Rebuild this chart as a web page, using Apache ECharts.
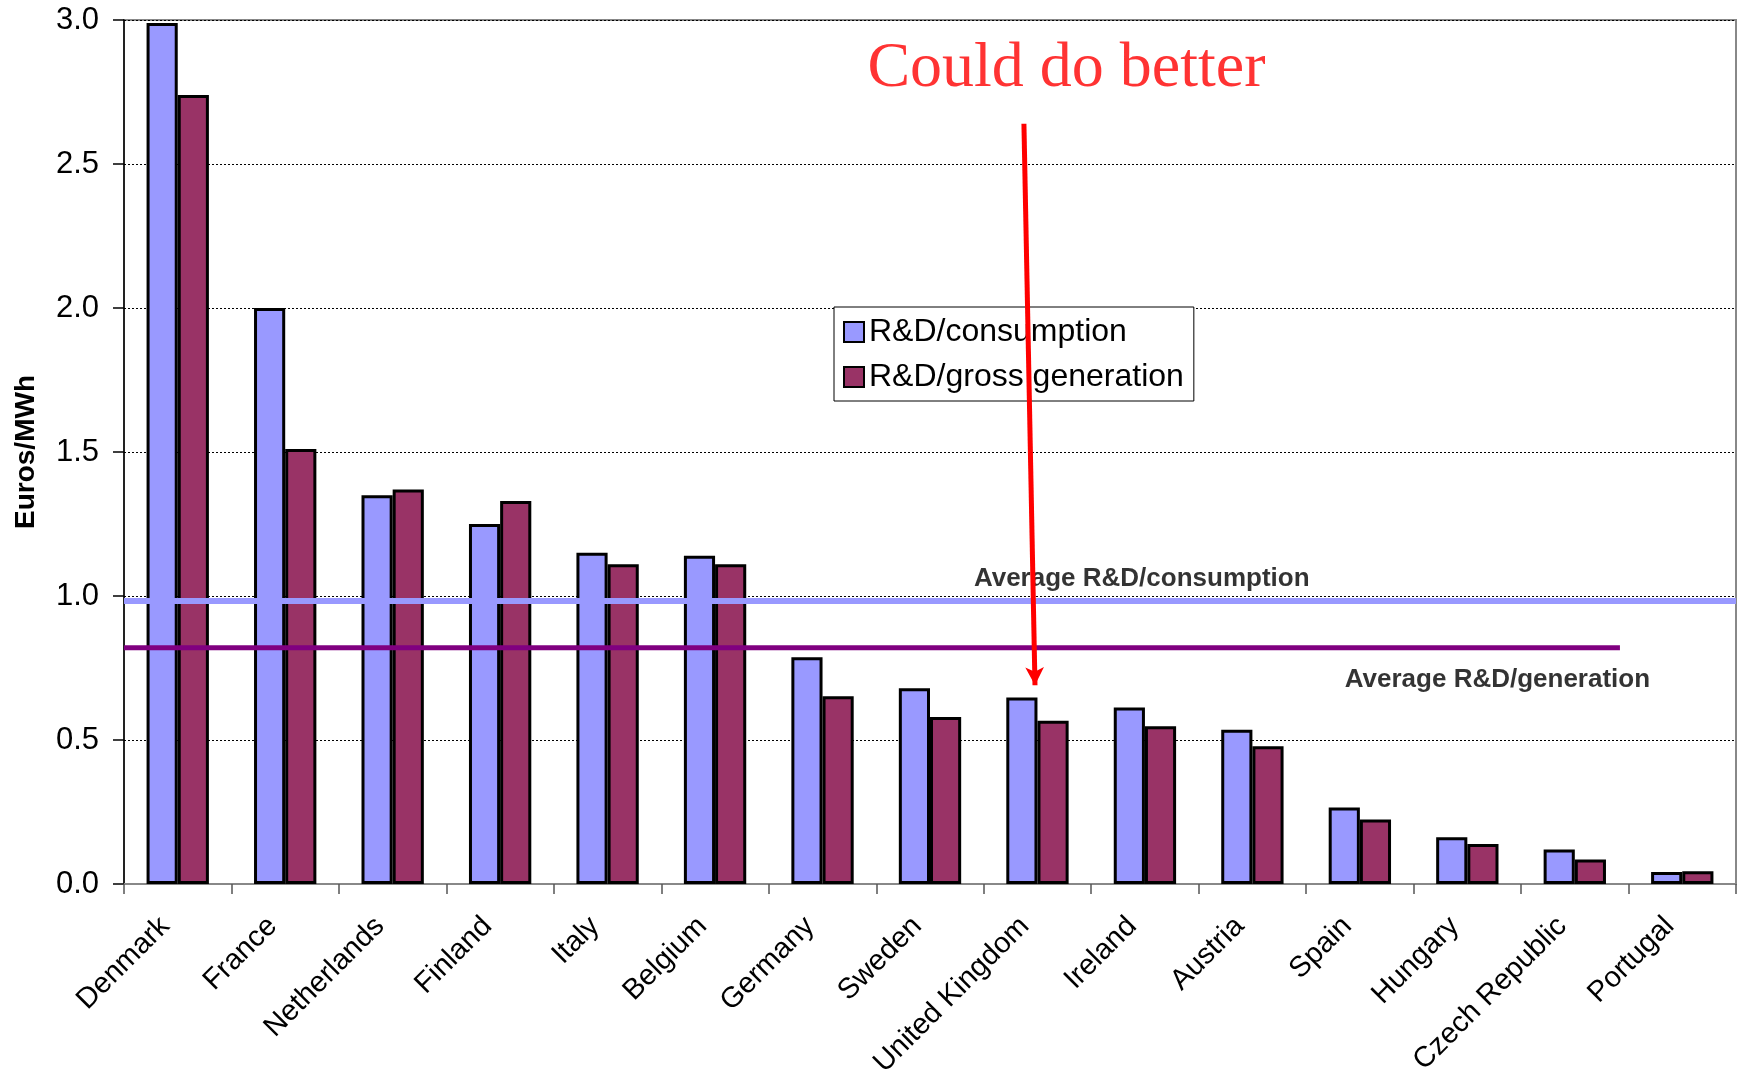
<!DOCTYPE html>
<html><head><meta charset="utf-8">
<script src="https://cdn.jsdelivr.net/npm/echarts@6/dist/echarts.min.js"></script>
<style>html,body{margin:0;padding:0;background:#fff}#c{width:1739px;height:1074px}</style>
</head><body><div id="c"></div>
<script>
const countries = ['Denmark','France','Netherlands','Finland','Italy','Belgium','Germany','Sweden','United Kingdom','Ireland','Austria','Spain','Hungary','Czech Republic','Portugal'];
const rdConsumption = [2.99, 2.00, 1.35, 1.25, 1.15, 1.14, 0.787, 0.68, 0.648, 0.613, 0.536, 0.266, 0.162, 0.12, 0.042];
const rdGeneration  = [2.74, 1.51, 1.37, 1.33, 1.11, 1.11, 0.652, 0.58, 0.567, 0.548, 0.478, 0.224, 0.139, 0.085, 0.044];
const avgConsumption = 0.983;
const avgGeneration = 0.82;
const avgGenerationEnd = 13.92;
const yMin = 0, yMax = 3, yStep = 0.5;
const arrowStart = [8.374, 2.64];
const arrowEnd = [8.477, 0.69];
const notes = [
  {text: 'Could do better', pos: [8.77, 2.83], size: 64, family: 'Liberation Serif', weight: 'normal', color: '#FF0000'},
  {text: 'Average R&D/consumption', pos: [9.47, 1.06], size: 26, family: 'Liberation Sans', weight: 'bold', color: '#000'},
  {text: 'Average R&D/generation', pos: [12.78, 0.709], size: 26, family: 'Liberation Sans', weight: 'bold', color: '#000'}
];

const chart = echarts.init(document.getElementById('c'));
const F = 'Liberation Sans';
chart.setOption({
  animation: false,
  backgroundColor: '#fff',
  textStyle: {fontFamily: F},
  legend: {
    orient: 'vertical', left: 834, top: 307,
    data: ['R&D/consumption', 'R&D/gross generation'],
    backgroundColor: '#fff', borderColor: '#000', borderWidth: 1,
    padding: [9, 10, 8, 9], itemGap: 13, itemWidth: 20, itemHeight: 20,
    icon: 'rect',
    itemStyle: {borderColor: '#000', borderWidth: 2},
    textStyle: {fontSize: 32, color: '#000', fontFamily: F}
  },
  grid: {left: 124, right: 3, top: 20, bottom: 190, outerBoundsMode: 'none', containLabel: false,
         show: true, borderColor: '#888', borderWidth: 2, backgroundColor: 'transparent'},
  xAxis: [{
    type: 'category', data: countries,
    axisLine: {lineStyle: {color: '#888', width: 2}},
    axisTick: {show: true, interval: 0, length: 10, lineStyle: {color: '#555', width: 1.5}},
    axisLabel: {rotate: 45, interval: 0, fontSize: 29, color: '#000', margin: 25, padding: [0, 18, 0, 0], fontFamily: F},
    splitLine: {show: false}
  }, {
    type: 'value', min: 0, max: 15, show: false
  }],
  yAxis: {
    type: 'value', min: yMin, max: yMax, interval: yStep,
    name: 'Euros/MWh', nameLocation: 'middle', nameGap: 84, nameRotate: 90,
    nameTextStyle: {fontSize: 28, fontWeight: 'bold', color: '#000', fontFamily: F},
    axisLine: {show: true, lineStyle: {color: '#000', width: 1.5}},
    axisTick: {show: true, length: 11, lineStyle: {color: '#000', width: 1.5}},
    axisLabel: {formatter: v => v.toFixed(1), fontSize: 31, color: '#000', margin: 25, fontFamily: F},
    splitLine: {show: true, lineStyle: {type: [2, 2], color: '#000', width: 1}}
  },
  series: [
    {name: 'R&D/consumption', type: 'bar', data: rdConsumption, barGap: '0%', barCategoryGap: '42%',
     itemStyle: {color: '#9999FF', borderColor: '#000', borderWidth: 3}},
    {name: 'R&D/gross generation', type: 'bar', data: rdGeneration,
     itemStyle: {color: '#993366', borderColor: '#000', borderWidth: 3}},
    {name: 'avgC', type: 'line', xAxisIndex: 1, data: [[0, avgConsumption], [15, avgConsumption]],
     symbol: 'none', lineStyle: {color: '#9999FF', width: 6}, z: 5},
    {name: 'avgG', type: 'line', xAxisIndex: 1, data: [[0, avgGeneration], [avgGenerationEnd, avgGeneration]],
     symbol: 'none', lineStyle: {color: '#800080', width: 5}, z: 5},
    {name: 'notes', type: 'scatter', xAxisIndex: 1, symbolSize: 1, z: 6,
     itemStyle: {color: 'rgba(0,0,0,0)'},
     data: notes.map(n => ({value: n.pos, label: {show: true, position: 'inside', formatter: n.text,
       fontSize: n.size, fontFamily: n.family, fontWeight: n.weight, color: n.color, textBorderWidth: 0}}))},
    {name: 'arrow', type: 'line', xAxisIndex: 1, data: [], z: 10,
     markLine: {silent: true, z: 10, symbol: ['none', 'arrow'], symbolSize: [14, 18],
       lineStyle: {color: '#FF0000', width: 5, type: 'solid'}, label: {show: false},
       data: [[{coord: arrowStart}, {coord: arrowEnd}]]}}
  ]
});
</script></body></html>
